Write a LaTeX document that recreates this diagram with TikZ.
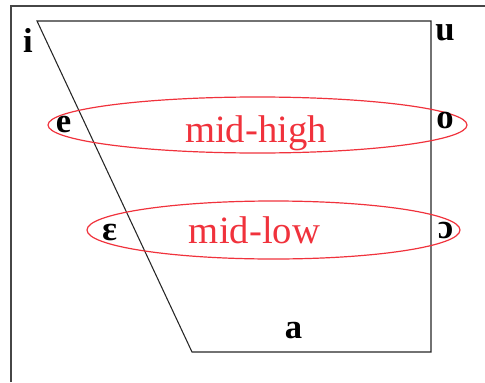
\documentclass[tikz,border=0pt]{standalone}
\usepackage{fontspec}
\setmainfont{Liberation Serif}
\definecolor{ellred}{RGB}{240,50,60}
\definecolor{framegray}{RGB}{70,70,70}
\tikzset{
  vowel/.style={anchor=base, inner sep=0pt, font=\fontsize{26}{26}\selectfont\bfseries},
  lab/.style={anchor=base, inner sep=0pt, text=ellred, font=\fontsize{29}{29}\selectfont},
  ring/.style={draw=ellred, line width=0.9pt},
  quad/.style={draw=black!85, line width=0.8pt},
  frame/.style={draw=framegray, line width=1.2pt}
}
\begin{document}
\begin{tikzpicture}[x=0.75pt, y=-0.75pt]
\useasboundingbox (0,0) rectangle (485,382);
% outer frame (left and top edges)
\draw[frame] (11,382) -- (11,6) -- (485,6);
% vowel quadrilateral
\coordinate (tl) at (37,21);
\coordinate (tr) at (431,21);
\coordinate (br) at (431,352);
\coordinate (bl) at (192,352);
\draw[quad] (tl) -- (tr) -- (br) -- (bl) -- cycle;
% ellipses
\draw[ring] (257.5,125) ellipse [x radius=209.5, y radius=28];
\draw[ring] (273.5,230) ellipse [x radius=186.5, y radius=29];
% labels
\node[lab] (midhigh) at (256,142) {mid-high};
\node[lab] (midlow) at (254.5,243) {mid-low};
% vowels
\node[vowel] (i) at (28,52) {i};
\node[vowel] (u) at (445,40) {u};
\node[vowel] (e) at (63.5,132) {e};
\node[vowel] (o) at (445,128) {o};
\node[vowel] (eps) at (109.5,240) {ɛ};
\node[vowel] (oo) at (445.5,238) {ɔ};
\node[vowel] (a) at (293.5,338) {a};
\end{tikzpicture}
\end{document}
